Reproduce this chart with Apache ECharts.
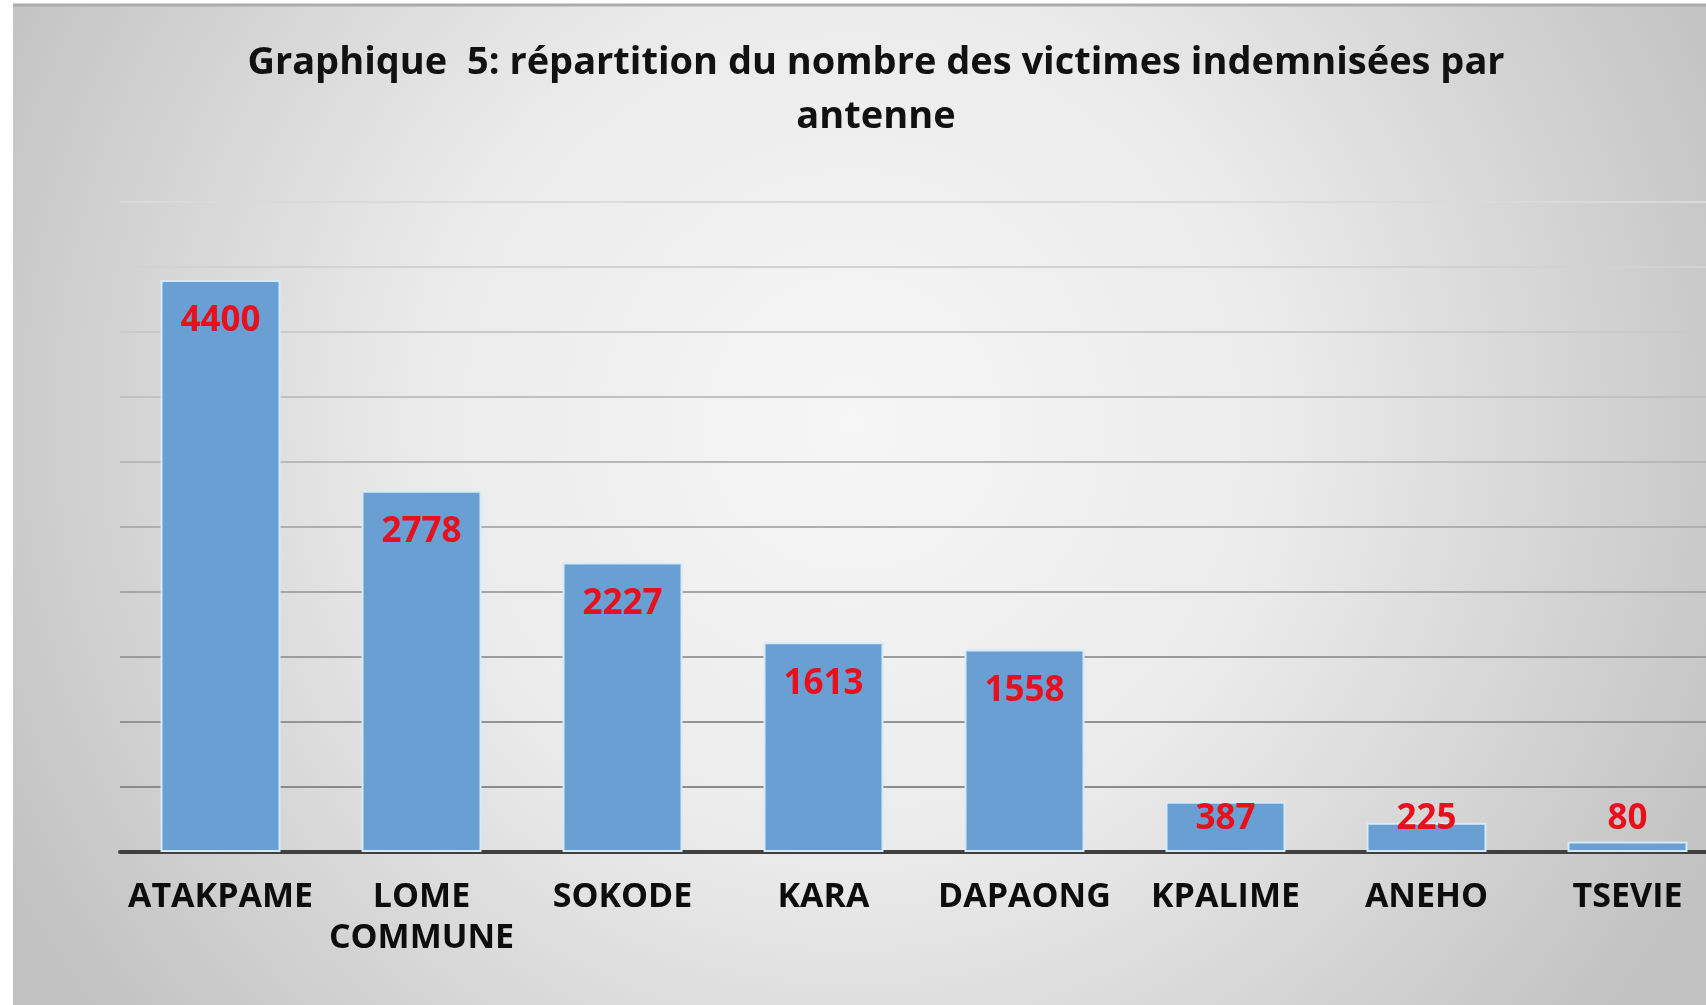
<!DOCTYPE html>
<html>
<head>
<meta charset="utf-8">
<script src="https://cdn.jsdelivr.net/npm/echarts@6/dist/echarts.min.js"></script>
<style>
  html, body { margin: 0; padding: 0; background: #fff; }
  #chart { width: 1706px; height: 1005px; }
</style>
</head>
<body>
<div id="chart"></div>
<script>
const titleLines = [
  "Graphique  5: répartition du nombre des victimes indemnisées par",
  "antenne",
];
const antennes = ["ATAKPAME", "LOME\nCOMMUNE", "SOKODE", "KARA", "DAPAONG", "KPALIME", "ANEHO", "TSEVIE"];
const victimes = [4400, 2778, 2227, 1613, 1558, 387, 225, 80];
const yMax = 5000;
const yStep = 500;

const chart = echarts.init(document.getElementById("chart"), null, { renderer: "canvas" });

// grid lines get darker toward the bottom in the source picture
const gridColors = ["#7f7f7f", "#8b8b8b", "#939393", "#9c9c9c", "#a6a6a6", "#afafaf",
  "#b8b8b8", "#c1c1c1", "#cacaca", "#d2d2d2", "#dadada"];

const labelFont = { fontFamily: "Open Sans", fontWeight: "bold", fontSize: 35, color: "#e8101c" };

chart.setOption({
  backgroundColor: {
    type: "radial", x: 0.5, y: 0.42, r: 0.95,
    colorStops: [
      { offset: 0, color: "#f6f6f6" },
      { offset: 0.45, color: "#ebebeb" },
      { offset: 1, color: "#c2c2c2" },
    ],
  },
  animation: false,
  graphic: [
    { type: "rect", shape: { x: 0, y: 0, width: 13, height: 1005 }, style: { fill: "#fff" }, z: 100 },
    { type: "rect", shape: { x: 0, y: 0, width: 1706, height: 4 }, style: { fill: "#fff" }, z: 100 },
    { type: "line", shape: { x1: 13, y1: 5, x2: 1706, y2: 5 }, style: { stroke: "#ababab", lineWidth: 3 }, z: 100 },
  ],
  title: {
    text: titleLines.join("\n"),
    left: 871,
    textAlign: "center",
    top: 31,
    textStyle: { fontFamily: "Open Sans", fontWeight: "bold", fontSize: 38, lineHeight: 54, color: "#111" },
  },
  grid: { left: 120, top: 202, right: -22, height: 650, outerBoundsMode: "none" },
  xAxis: {
    type: "category",
    data: antennes,
    axisLine: { lineStyle: { color: "#404040", width: 4 } },
    axisTick: { show: false },
    axisLabel: {
      interval: 0, margin: 25,
      fontFamily: "Open Sans", fontWeight: "bold", fontSize: 34, lineHeight: 41, color: "#0d0d0d",
    },
  },
  yAxis: {
    type: "value", min: 0, max: yMax, interval: yStep,
    axisLabel: { show: false },
    axisLine: { show: false },
    axisTick: { show: false },
    splitLine: { lineStyle: { color: gridColors, width: 2 } },
  },
  series: [{
    type: "bar",
    barWidth: 120,
    data: victimes.map((v) => v < 500
      ? { value: v, label: { position: "insideBottom", distance: 15 } }
      : v),
    itemStyle: { color: "#6a9fd4", borderColor: "#d6eaf7", borderWidth: 2 },
    label: { show: true, position: "insideTop", distance: 24, ...labelFont },
  }],
});
</script>
</body>
</html>
